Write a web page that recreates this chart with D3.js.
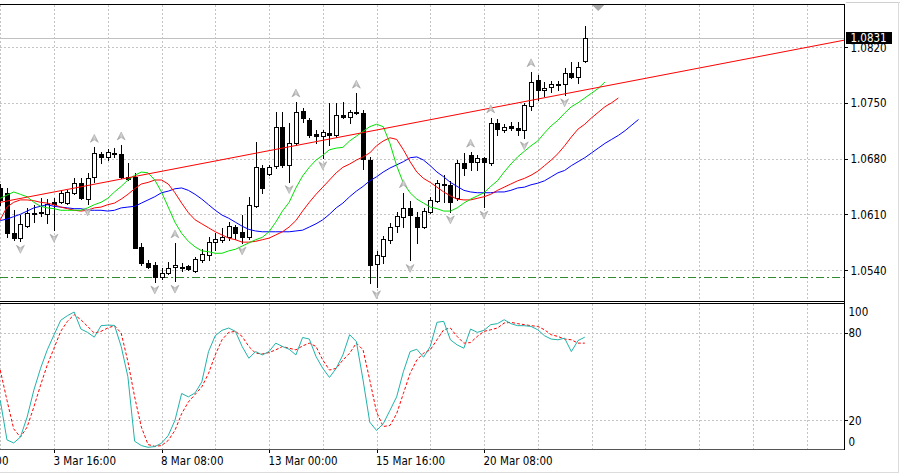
<!DOCTYPE html>
<html><head><meta charset="utf-8">
<script src="https://cdnjs.cloudflare.com/ajax/libs/d3/7.8.5/d3.min.js"></script>
<style>
html,body{margin:0;padding:0;background:#fff;}
svg{display:block;}
text{font-family:"DejaVu Sans Condensed","DejaVu Sans",sans-serif;font-stretch:condensed;font-size:11.5px;fill:#000;}
</style></head><body>
<svg id="c" width="900" height="474"></svg>
<script>
// ---------- DATA (H4 bars, index 0 = 3 Mar 16:00) ----------
const firstBar = -8;
const open = [
 1.0643,1.0637,1.0586,1.0580,1.0595,1.0610,1.0612,1.0610,          // -8..-1
 1.0625,1.0625,1.0624,1.0637,1.0649,1.0629,1.0657,1.0686,1.0682,1.0686, // 0..9
 1.0686,1.0657,1.0657,1.0569,1.0549,1.0546,1.0531,1.0536,1.0544,1.0542, // 10..19
 1.0545,1.0539,1.0552,1.0559,1.0575,1.0578,1.0581,1.0594,1.0588,1.0581, // 20..29
 1.0620,1.0668,1.0660,1.0671,1.0720,1.0672,1.0699,1.0740,1.0728,1.0711, // 30..39
 1.0708,1.0712,1.0710,1.0735,1.0732,1.0738,1.0737,1.0678,1.0547,1.0557, // 40..49
 1.0578,1.0595,1.0606,1.0618,1.0606,1.0594,1.0613,1.0627,1.0647,1.0647, // 50..59
 1.0630,1.0674,1.0684,1.0676,1.0681,1.0674,1.0725,1.0716,1.0721,1.0718, // 60..69
 1.0716,1.0746,1.0779,1.0766,1.0770,1.0772,1.0774,1.0787,1.0782,1.0802  // 70..79
];
const high = [
 1.0648,1.0643,1.0615,1.0609,1.0618,1.0622,1.0630,1.0629,
 1.0630,1.0640,1.0640,1.0656,1.0656,1.0662,1.0694,1.0688,1.0692,1.0693,
 1.0697,1.0674,1.0662,1.0574,1.0553,1.0550,1.0542,1.0550,1.0574,1.0549,
 1.0546,1.0556,1.0566,1.0581,1.0586,1.0593,1.0600,1.0596,1.0609,1.0632,
 1.0701,1.0672,1.0672,1.0738,1.0738,1.0725,1.0751,1.0743,1.0731,1.0716,
 1.0716,1.0750,1.0750,1.0751,1.0741,1.0762,1.0741,1.0682,1.0564,1.0583,
 1.0599,1.0613,1.0637,1.0627,1.0613,1.0618,1.0632,1.0653,1.0659,1.0652,
 1.0678,1.0687,1.0688,1.0684,1.0682,1.0731,1.0730,1.0723,1.0726,1.0726,
 1.0750,1.0789,1.0785,1.0776,1.0777,1.0777,1.0794,1.0801,1.0801,1.0846
];
const low = [
 1.0622,1.0581,1.0578,1.0576,1.0594,1.0600,1.0608,1.0599,
 1.0590,1.0624,1.0623,1.0635,1.0629,1.0623,1.0651,1.0674,1.0678,1.0682,
 1.0656,1.0653,1.0567,1.0546,1.0542,1.0525,1.0529,1.0535,1.0526,1.0539,
 1.0540,1.0537,1.0550,1.0552,1.0565,1.0575,1.0578,1.0579,1.0574,1.0579,
 1.0619,1.0637,1.0659,1.0668,1.0669,1.0651,1.0697,1.0726,1.0707,1.0699,
 1.0681,1.0697,1.0707,1.0731,1.0725,1.0736,1.0667,1.0524,1.0519,1.0549,
 1.0574,1.0588,1.0594,1.0552,1.0574,1.0593,1.0612,1.0625,1.0625,1.0613,
 1.0628,1.0659,1.0666,1.0666,1.0619,1.0672,1.0710,1.0713,1.0716,1.0710,
 1.0706,1.0741,1.0753,1.0758,1.0763,1.0766,1.0760,1.0781,1.0775,1.0801
];
const close = [
 1.0628,1.0586,1.0580,1.0598,1.0612,1.0612,1.0613,1.0623,
 1.0623,1.0637,1.0638,1.0649,1.0630,1.0656,1.0687,1.0682,1.0688,1.0687,
 1.0657,1.0654,1.0568,1.0549,1.0544,1.0531,1.0536,1.0542,1.0546,1.0544,
 1.0541,1.0554,1.0560,1.0575,1.0579,1.0581,1.0595,1.0586,1.0581,1.0622,
 1.0669,1.0643,1.0669,1.0720,1.0672,1.0699,1.0738,1.0731,1.0710,1.0708,
 1.0713,1.0710,1.0735,1.0732,1.0738,1.0737,1.0679,1.0546,1.0559,1.0579,
 1.0594,1.0608,1.0618,1.0609,1.0594,1.0614,1.0628,1.0649,1.0648,1.0625,
 1.0674,1.0668,1.0676,1.0681,1.0676,1.0725,1.0717,1.0720,1.0718,1.0716,
 1.0747,1.0776,1.0766,1.0769,1.0774,1.0774,1.0787,1.0782,1.0795,1.0831
];
// Alligator lines (already shifted), starting at bar -8
const lips = [
 1.0630,1.0634,1.0638,1.0635,1.0632,1.0625,1.0620,1.0618,
 1.0617,1.0615,1.0615,1.0615,1.0615,1.0618,1.0622,1.0625,1.0630,1.0638,
 1.0645,1.0653,1.0659,1.0663,1.0662,1.0653,1.0638,1.0619,1.0600,1.0586,
 1.0576,1.0569,1.0564,1.0563,1.0561,1.0561,1.0564,1.0566,1.0570,1.0574,
 1.0578,1.0581,1.0588,1.0600,1.0614,1.0625,1.0643,1.0658,1.0669,1.0678,
 1.0684,1.0691,1.0693,1.0694,1.0702,1.0708,1.0714,1.0720,1.0723,1.0720,
 1.0699,1.0671,1.0649,1.0637,1.0629,1.0624,1.0619,1.0617,1.0614,1.0614,
 1.0618,1.0624,1.0629,1.0633,1.0637,1.0645,1.0652,1.0663,1.0673,1.0682,
 1.0689,1.0696,1.0702,1.0712,1.0721,1.0728,1.0737,1.0745,1.0750,1.0756,
 1.0762,1.0768,1.0776
];
const teeth = [
 1.0603,1.0619,1.0625,1.0628,1.0628,1.0627,1.0625,1.0624,
 1.0622,1.0619,1.0617,1.0615,1.0614,1.0615,1.0618,1.0619,1.0622,1.0624,
 1.0629,1.0635,1.0642,1.0648,1.0650,1.0653,1.0653,1.0648,1.0637,1.0624,
 1.0612,1.0603,1.0598,1.0593,1.0588,1.0584,1.0580,1.0578,1.0575,1.0575,
 1.0576,1.0578,1.0580,1.0584,1.0588,1.0594,1.0602,1.0614,1.0625,1.0635,
 1.0644,1.0653,1.0662,1.0669,1.0673,1.0678,1.0682,1.0687,1.0696,1.0702,
 1.0706,1.0704,1.0691,1.0676,1.0663,1.0655,1.0650,1.0644,1.0638,1.0633,
 1.0629,1.0628,1.0628,1.0630,1.0632,1.0635,1.0640,1.0644,1.0648,1.0652,
 1.0655,1.0659,1.0664,1.0671,1.0678,1.0686,1.0696,1.0707,1.0717,1.0723,
 1.0731,1.0738,1.0745,1.0750,1.0756
];
const jaw = [
 1.0602,1.0604,1.0607,1.0610,1.0614,1.0618,1.0620,1.0622,
 1.0620,1.0619,1.0618,1.0617,1.0617,1.0615,1.0615,1.0615,1.0614,1.0615,
 1.0618,1.0619,1.0620,1.0624,1.0628,1.0632,1.0637,1.0639,1.0642,1.0643,
 1.0640,1.0635,1.0629,1.0622,1.0615,1.0609,1.0605,1.0600,1.0595,1.0591,
 1.0589,1.0588,1.0588,1.0588,1.0588,1.0588,1.0589,1.0590,1.0594,1.0598,
 1.0603,1.0610,1.0618,1.0624,1.0632,1.0639,1.0645,1.0652,1.0657,1.0663,
 1.0668,1.0672,1.0676,1.0681,1.0682,1.0678,1.0671,1.0663,1.0657,1.0650,
 1.0645,1.0640,1.0638,1.0637,1.0637,1.0637,1.0638,1.0638,1.0640,1.0643,
 1.0644,1.0647,1.0649,1.0652,1.0657,1.0662,1.0665,1.0671,1.0676,1.0681,
 1.0687,1.0693,1.0699,1.0704,1.0709,1.0715,1.0722,1.0729
];
const fractalUp = [6,10,18,36,45,52,62,65,71];
const fractalDown = [-5,0,5,15,18,28,35,40,48,53,59,64,70,76];
// Stochastic, starting at bar -8
const stochMain = [
 33.8,6.6,4.5,8.5,22.3,40.8,55.8,68.5,
 78.8,88.8,92.0,94.5,82.8,80.5,77.2,85.1,85.5,85.3,
 70.8,50.0,5.7,2.7,1.5,2.0,4.3,9.6,20.0,38.5,
 36.2,38.9,46.5,67.3,78.2,81.9,83.5,81.2,70.8,62.7,
 67.3,65.0,67.3,73.1,70.8,68.9,65.0,77.0,75.9,63.9,
 55.8,49.5,55.8,65.0,78.9,74.2,47.7,18.8,13.1,17.7,
 26.9,36.2,53.5,67.3,68.9,63.4,70.8,87.4,88.1,75.4,
 71.9,69.6,82.8,80.5,81.9,85.8,86.5,89.2,86.5,85.1,
 85.1,84.6,82.3,78.2,75.9,75.4,76.5,67.3,74.9,77.2
];
const stochSignal = [
 54.6,33.8,14.2,8.5,15.4,29.2,44.2,58.1,
 69.6,81.2,88.1,92.7,89.2,84.6,80.0,81.2,83.5,85.1,
 80.0,60.4,36.2,15.4,3.4,2.2,2.7,6.2,13.1,24.6,
 32.7,37.8,43.1,52.3,65.0,75.4,80.5,81.2,77.7,70.8,
 66.2,65.7,66.6,68.5,70.8,69.6,68.5,71.2,73.1,70.8,
 61.5,54.6,55.8,61.5,66.2,73.1,68.5,47.7,25.8,15.8,
 16.5,24.6,38.5,52.3,61.5,66.2,68.5,75.4,82.3,83.5,
 77.7,73.1,73.5,77.7,81.2,82.3,83.5,86.9,87.4,86.5,
 85.8,85.1,84.6,82.3,78.9,77.7,75.9,75.4,73.1,73.1
];
const trendPoints = [{i:-8, p:1.0625},{i:79, p:1.0766}];
const supportLevel = 1.0531;
const bidPrice = 1.0831;
const priceTicks = [1.0540,1.0610,1.0680,1.0750,1.0820];
const stochTicks = [100,80,20,0];
const stochGrid = [80,20];
const timeTicks = [-16,0,16,32,48,64];
const timeLabels = ["1 Mar 00:00","3 Mar 16:00","8 Mar 08:00","13 Mar 00:00","15 Mar 16:00","20 Mar 08:00"];
const shiftMarkBar = 81;

// ---------- LAYOUT ----------
const plotR = 844.5, mainTop = 4.5, mainBot = 301.5, indTop = 303.5, indBot = 449.5;
const svg = d3.select("#c");
const x = d3.scaleLinear().domain([0,16]).range([54,161.5]);
const y = d3.scaleLinear().domain([1.0540,1.0820]).range([270,47]);
const ys = d3.scaleLinear().domain([0,100]).range([449.5,304]);

const defs = svg.append("defs");
defs.append("clipPath").attr("id","cm").append("rect").attr("x",0).attr("y",mainTop).attr("width",plotR).attr("height",mainBot-mainTop);
defs.append("clipPath").attr("id","ci").append("rect").attr("x",0).attr("y",indTop).attr("width",plotR).attr("height",indBot-indTop);
const g = defs.append("linearGradient").attr("id","fg").attr("x1",0).attr("x2",1).attr("y1",0).attr("y2",0);
g.append("stop").attr("offset","0").attr("stop-color","#8a8a8a");
g.append("stop").attr("offset","0.5").attr("stop-color","#d4d4d4");
g.append("stop").attr("offset","1").attr("stop-color","#9c9c9c");

svg.append("rect").attr("width",900).attr("height",474).attr("fill","#fff");

// grids
const vgrid = d3.range(-8, 120, 8);
const gridStyle = s => s.attr("stroke","#c4c4c4").attr("stroke-width",1).attr("stroke-dasharray","2,2").attr("shape-rendering","crispEdges");
const gm = svg.append("g").attr("clip-path","url(#cm)");
gm.selectAll(".vg").data(vgrid).join("line").attr("x1",d=>Math.round(x(d))+0.5).attr("x2",d=>Math.round(x(d))+0.5).attr("y1",mainTop).attr("y2",mainBot).call(gridStyle);
gm.selectAll(".hg").data(priceTicks).join("line").attr("x1",0).attr("x2",plotR).attr("y1",d=>Math.round(y(d))+0.5).attr("y2",d=>Math.round(y(d))+0.5).call(gridStyle);
const gi = svg.append("g").attr("clip-path","url(#ci)");
gi.selectAll(".vg").data(vgrid).join("line").attr("x1",d=>Math.round(x(d))+0.5).attr("x2",d=>Math.round(x(d))+0.5).attr("y1",indTop).attr("y2",indBot).call(gridStyle);
gi.selectAll(".hg").data(stochGrid).join("line").attr("x1",0).attr("x2",plotR).attr("y1",d=>Math.round(ys(d))+0.5).attr("y2",d=>Math.round(ys(d))+0.5).call(gridStyle);

// bid line & support line
gm.append("line").attr("x1",0).attr("x2",plotR).attr("y1",Math.round(y(bidPrice))+0.5).attr("y2",Math.round(y(bidPrice))+0.5).attr("stroke","#c0c0c0").attr("shape-rendering","crispEdges");
gm.append("line").attr("x1",0).attr("x2",plotR).attr("y1",Math.round(y(supportLevel))+0.5).attr("y2",Math.round(y(supportLevel))+0.5).attr("stroke","#2e8b2e").attr("stroke-dasharray","8,3,2,3").attr("shape-rendering","crispEdges");

// candles
const bars = open.map((o,k)=>({i:k+firstBar,o,h:high[k],l:low[k],c:close[k]}));
const cg = gm.append("g").attr("shape-rendering","crispEdges");
bars.forEach(b=>{
  const cx = Math.round(x(b.i))+0.5;
  cg.append("line").attr("x1",cx).attr("x2",cx).attr("y1",Math.round(y(b.h))).attr("y2",Math.round(y(b.l))+1).attr("stroke","#000");
  const t = Math.round(y(Math.max(b.o,b.c))), bt = Math.round(y(Math.min(b.o,b.c)));
  if (bt - t < 1) {
    cg.append("line").attr("x1",cx-2.5).attr("x2",cx+2.5).attr("y1",t+0.5).attr("y2",t+0.5).attr("stroke","#000");
  } else {
    cg.append("rect").attr("x",cx-2).attr("y",t+0.5).attr("width",4).attr("height",bt-t)
      .attr("fill", b.c>b.o ? "#fff" : "#000").attr("stroke","#000");
  }
});

// alligator
const mkLine = (arr,col)=>{
  const pts = arr.map((v,k)=>({i:k+firstBar,v}));
  gm.append("path").datum(pts).attr("d",d3.line().x(d=>x(d.i)).y(d=>y(d.v))).attr("fill","none").attr("stroke",col).attr("stroke-width",1);
};
mkLine(jaw,"#0000ff");
mkLine(teeth,"#ff0000");
mkLine(lips,"#00e000");

// trend line (ray across chart)
const slope = (trendPoints[1].p-trendPoints[0].p)/(trendPoints[1].i-trendPoints[0].i);
const iL = x.invert(0), iR = x.invert(plotR);
gm.append("line").attr("x1",0).attr("y1",y(trendPoints[0].p+slope*(iL-trendPoints[0].i)))
  .attr("x2",plotR).attr("y2",y(trendPoints[0].p+slope*(iR-trendPoints[0].i))).attr("stroke","#ff0000").attr("stroke-width",1);

// fractals
const arrowUp = (cx,cy)=>`M${cx},${cy-4}L${cx+4},${cy+4}L${cx},${cy+1.5}L${cx-4},${cy+4}Z`;
const arrowDn = (cx,cy)=>`M${cx},${cy+4}L${cx+4},${cy-4}L${cx},${cy-1.5}L${cx-4},${cy-4}Z`;
fractalUp.forEach(i=>{
  const k = i-firstBar;
  gm.append("path").attr("d",arrowUp(x(i),y(high[k])-9)).attr("fill","url(#fg)").attr("stroke","#a0a0a0").attr("stroke-width",0.5);
});
fractalDown.forEach(i=>{
  const k = i-firstBar;
  gm.append("path").attr("d",arrowDn(x(i),y(low[k])+8)).attr("fill","url(#fg)").attr("stroke","#a0a0a0").attr("stroke-width",0.5);
});

// chart shift marker
const sx = x(shiftMarkBar);
svg.append("path").attr("d",`M${sx-6},${mainTop+0.5}L${sx+6},${mainTop+0.5}L${sx},${mainTop+6.5}Z`).attr("fill","#a8a8a8");

// stochastic
const stLine = d3.line().x(d=>x(d.i)).y(d=>ys(d.v));
gi.append("path").datum(stochSignal.map((v,k)=>({i:k+firstBar,v}))).attr("d",stLine).attr("fill","none").attr("stroke","#ff0000").attr("stroke-width",1).attr("stroke-dasharray","3,2");
gi.append("path").datum(stochMain.map((v,k)=>({i:k+firstBar,v}))).attr("d",stLine).attr("fill","none").attr("stroke","#20b2aa").attr("stroke-width",1);

// frames
const fr = svg.append("g").attr("fill","none").attr("stroke","#000").attr("shape-rendering","crispEdges");
fr.append("line").attr("x1",0).attr("x2",plotR).attr("y1",mainTop).attr("y2",mainTop);
fr.append("line").attr("x1",0).attr("x2",plotR).attr("y1",mainBot).attr("y2",mainBot);
fr.append("line").attr("x1",0).attr("x2",plotR).attr("y1",indTop).attr("y2",indTop);
fr.append("line").attr("x1",0).attr("x2",plotR).attr("y1",indBot).attr("y2",indBot).attr("stroke","#555");
fr.append("line").attr("x1",plotR).attr("x2",plotR).attr("y1",mainTop).attr("y2",indBot);
svg.append("line").attr("x1",plotR+1).attr("x2",900).attr("y1",2.5).attr("y2",2.5).attr("stroke","#d0d0d0").attr("shape-rendering","crispEdges");
svg.append("line").attr("x1",898.5).attr("x2",898.5).attr("y1",2).attr("y2",472.5).attr("stroke","#dcdcdc").attr("shape-rendering","crispEdges");
svg.append("line").attr("x1",0).attr("x2",899).attr("y1",472.5).attr("y2",472.5).attr("stroke","#dcdcdc").attr("shape-rendering","crispEdges");

// price axis
const pa = svg.append("g").attr("transform",`translate(${plotR},0)`)
  .call(d3.axisRight(y).tickValues(priceTicks).tickSize(3).tickPadding(3).tickFormat(d3.format(".4f")));
pa.select(".domain").remove();
pa.selectAll("line").attr("stroke","#000").attr("shape-rendering","crispEdges");
pa.selectAll("text").attr("font-size",null).attr("font-family",null).attr("dy","0.36em");
pa.attr("font-size",null).attr("font-family",null);

// bid label
const by = y(bidPrice);
svg.append("rect").attr("x",plotR+1.5).attr("y",Math.round(by)-6).attr("width",46).attr("height",12).attr("fill","#000");
svg.append("text").attr("x",plotR+6).attr("y",by).attr("dy","0.36em").style("fill","#fff").text(d3.format(".4f")(bidPrice));

// stochastic axis
const stochLabelY = {100:312, 80:333, 20:421, 0:442};
const sa = svg.append("g");
stochTicks.forEach(v=>{
  sa.append("text").attr("x",plotR+4).attr("y",stochLabelY[v]).attr("dy","0.36em").text(v);
});
stochGrid.forEach(v=>{
  sa.append("line").attr("x1",plotR).attr("x2",plotR+3).attr("y1",Math.round(ys(v))+0.5).attr("y2",Math.round(ys(v))+0.5).attr("stroke","#000").attr("shape-rendering","crispEdges");
});

// time axis
const ta = svg.append("g").attr("transform",`translate(0,${indBot})`)
  .call(d3.axisBottom(x).tickValues(timeTicks).tickSize(3).tickFormat((d,k)=>timeLabels[k]));
ta.select(".domain").remove();
ta.selectAll("line").attr("stroke","#000").attr("shape-rendering","crispEdges");
ta.selectAll("text").attr("text-anchor","start").attr("x",-1).attr("y",15.5).attr("dy",null);
ta.attr("font-size",null).attr("font-family",null);
</script>
</body></html>
